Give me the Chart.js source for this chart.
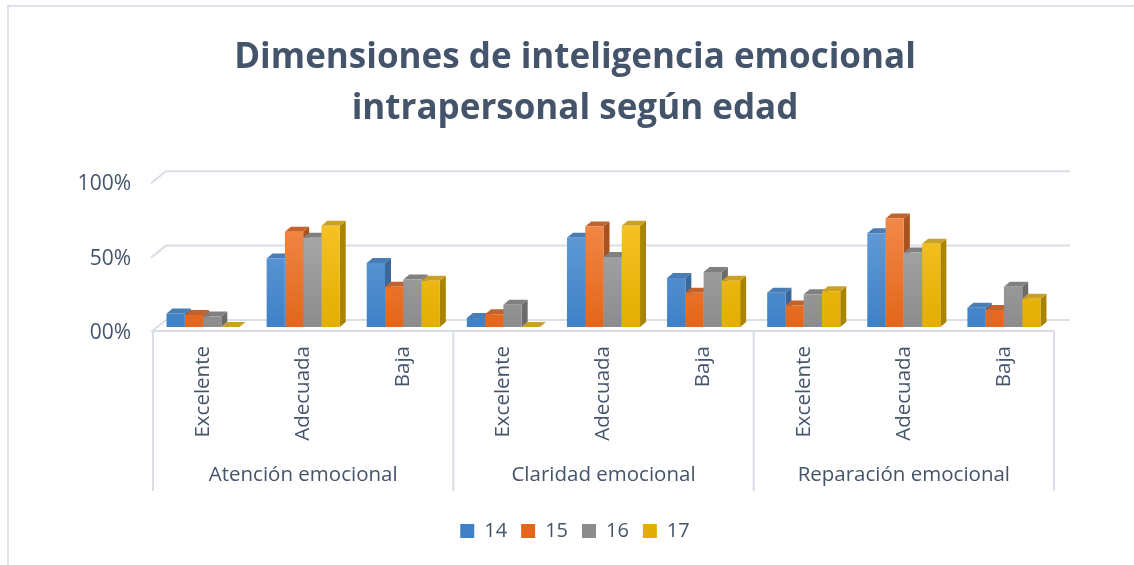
<!DOCTYPE html>
<html lang="es">
<head>
  <meta charset="UTF-8">
  <title>Dimensiones de inteligencia emocional intrapersonal según edad</title>
  <script src="https://cdn.jsdelivr.net/npm/chart.js"></script>
  <style>
    body {
      margin: 0;
      padding: 0;
      background: #fff;
      font-family: 'Open Sans', sans-serif;
    }

    .wrap {
      position: relative;
      width: 1134px;
      height: 565px;
      overflow: hidden;
    }

    .frame {
      position: absolute;
      left: 7px;
      top: 5px;
      width: 1200px;
      height: 700px;
      border-left: 2px solid #dde1e8;
      border-top: 2px solid #dde1e8;
      pointer-events: none;
    }

    canvas {
      position: absolute;
      left: 0;
      top: 0;
    }
  </style>
</head>
<body>
  <div class="wrap">
    <div class="frame"></div>
    <canvas id="grafico" width="1134" height="565"></canvas>
  </div>

  <script>
    // datos (porcentajes)
    const grupos = ['Atención emocional', 'Claridad emocional', 'Reparación emocional'];
    const categorias = ['Excelente', 'Adecuada', 'Baja', 'Excelente', 'Adecuada', 'Baja', 'Excelente', 'Adecuada', 'Baja'];
    const edades = ['14', '15', '16', '17'];
    const edad14 = [9, 46, 43, 6, 60, 33, 23, 63, 13];
    const edad15 = [8, 64, 27, 8.5, 67.5, 23, 14.5, 73, 11.5];
    const edad16 = [7, 60, 32, 15, 47, 37, 22, 50, 27];
    const edad17 = [0, 68, 31, 0, 68, 31, 24, 56, 19];
    const yTicks = [0, 50, 100];
    const yTickLabels = ['00%', '50%', '100%'];

    // colores: frente (arriba/abajo), tapa y lateral
    const colores = [
      { top: '#72a9e0', bottom: '#3f80c6', cap: '#4a7db4', side: '#3b6799' },
      { top: '#f7955a', bottom: '#e3661a', cap: '#c4622c', side: '#a9521f' },
      { top: '#b6b6b6', bottom: '#8c8c8c', cap: '#808080', side: '#6b6b6b' },
      { top: '#ffcb35', bottom: '#e2ae00', cap: '#caa126', side: '#a88400' }
    ];
    const texto = '#44546a';
    const lineas = '#dadee6';
    const DX = 6, DY = 5;

    function degradado(i) {
      return function(context) {
        const chart = context.chart;
        const area = chart.chartArea;
        if (!area) return colores[i].bottom;
        const g = chart.ctx.createLinearGradient(0, area.bottom, 0, area.top);
        g.addColorStop(0, colores[i].bottom);
        g.addColorStop(1, colores[i].top);
        return g;
      };
    }

    // rejilla en perspectiva (pared del fondo)
    const rejilla3d = {
      id: 'rejilla3d',
      beforeDatasetsDraw(chart) {
        const { ctx, chartArea, scales } = chart;
        ctx.save();
        ctx.strokeStyle = lineas;
        ctx.lineWidth = 2;
        yTicks.forEach(v => {
          const py = scales.y.getPixelForValue(v);
          ctx.beginPath();
          ctx.moveTo(chartArea.left - 2, py + 5);
          ctx.lineTo(chartArea.left + 13, py - 7);
          ctx.lineTo(chartArea.right + 16, py - 7);
          ctx.stroke();
        });
        // borde frontal del suelo y separadores de grupos
        const y0 = scales.y.getPixelForValue(0) + 4;
        ctx.beginPath();
        ctx.moveTo(chartArea.left, y0);
        ctx.lineTo(chartArea.right, y0);
        ctx.stroke();
        const x2 = scales.x2;
        const paso = (chartArea.right - chartArea.left) / grupos.length;
        for (let i = 0; i <= grupos.length; i++) {
          const px = i < grupos.length ? x2.getPixelForValue(i) - paso / 2 : x2.getPixelForValue(i - 1) + paso / 2;
          ctx.beginPath();
          ctx.moveTo(px, y0);
          ctx.lineTo(px, x2.top + 44);
          ctx.stroke();
        }
        ctx.restore();
      }
    };

    // tapas y laterales de las barras
    const barras3d = {
      id: 'barras3d',
      beforeDatasetsDraw(chart) {
        const { ctx } = chart;
        const metas = chart.getSortedVisibleDatasetMetas();
        ctx.save();
        for (let i = 0; i < chart.data.labels.length; i++) {
          metas.forEach(meta => {
            const el = meta.data[i];
            const { x, y, base, width } = el.getProps(['x', 'y', 'base', 'width'], true);
            const l = x - width / 2, r = x + width / 2;
            const c = colores[meta.index];
            ctx.fillStyle = c.side;
            ctx.beginPath();
            ctx.moveTo(r, y);
            ctx.lineTo(r + DX, y - DY);
            ctx.lineTo(r + DX, base - DY);
            ctx.lineTo(r, base);
            ctx.closePath();
            ctx.fill();
            ctx.fillStyle = c.cap;
            ctx.beginPath();
            ctx.moveTo(l, y);
            ctx.lineTo(r, y);
            ctx.lineTo(r + DX, y - DY);
            ctx.lineTo(l + DX, y - DY);
            ctx.closePath();
            ctx.fill();
          });
        }
        ctx.restore();
      }
    };

    const series = [edad14, edad15, edad16, edad17];
    const ctx = document.getElementById('grafico').getContext('2d');
    new Chart(ctx, {
      type: 'bar',
      data: {
        labels: categorias,
        datasets: series.map((d, i) => ({
          label: edades[i],
          data: d,
          backgroundColor: degradado(i),
          borderWidth: 0,
          categoryPercentage: 0.73,
          barPercentage: 1.0
        }))
      },
      options: {
        responsive: false,
        animation: false,
        layout: { padding: { left: 16, right: 0, top: 0, bottom: 14 } },
        plugins: {
          title: {
            display: true,
            text: ['Dimensiones de inteligencia emocional', 'intrapersonal según edad'],
            color: texto,
            font: { family: 'Open Sans', size: 35, weight: 'bold', lineHeight: 1.46 },
            padding: { top: 32, bottom: 44 }
          },
          legend: {
            position: 'bottom',
            labels: {
              color: texto,
              font: { family: 'Open Sans', size: 20 },
              boxWidth: 14,
              boxHeight: 14,
              padding: 14,
              generateLabels(chart) {
                return chart.data.datasets.map((ds, i) => ({
                  text: ds.label,
                  fillStyle: colores[i].bottom,
                  strokeStyle: colores[i].bottom,
                  lineWidth: 0,
                  fontColor: texto,
                  datasetIndex: i
                }));
              }
            }
          },
          tooltip: { enabled: false }
        },
        scales: {
          x: {
            grid: { display: false, drawTicks: false },
            border: { display: false },
            ticks: {
              color: texto,
              font: { family: 'Open Sans', size: 20.5 },
              maxRotation: 90,
              minRotation: 90,
              autoSkip: false,
              padding: 19
            },
            afterFit(scale) { scale.height = 120; }
          },
          x2: {
            type: 'category',
            labels: grupos,
            position: 'bottom',
            offset: true,
            grid: { display: false, drawTicks: false },
            border: { display: false },
            ticks: {
              color: texto,
              font: { family: 'Open Sans', size: 20.5 },
              padding: 16
            },
            afterFit(scale) { scale.height = 60; }
          },
          y: {
            min: 0,
            max: 100,
            grid: { display: false, drawTicks: false },
            border: { display: false },
            ticks: {
              stepSize: 50,
              color: texto,
              font: { family: 'Open Sans', size: 21 },
              padding: 22,
              labelOffset: 6,
              callback: v => yTickLabels[yTicks.indexOf(v)]
            },
            afterFit(scale) { scale.width = 137; }
          },
          // espacio a la derecha para la pared en perspectiva
          yR: {
            position: 'right',
            display: true,
            grid: { display: false, drawTicks: false },
            border: { display: false },
            ticks: { display: false },
            afterFit(scale) { scale.width = 80; }
          }
        }
      },
      plugins: [rejilla3d, barras3d]
    });
  </script>
</body>
</html>
